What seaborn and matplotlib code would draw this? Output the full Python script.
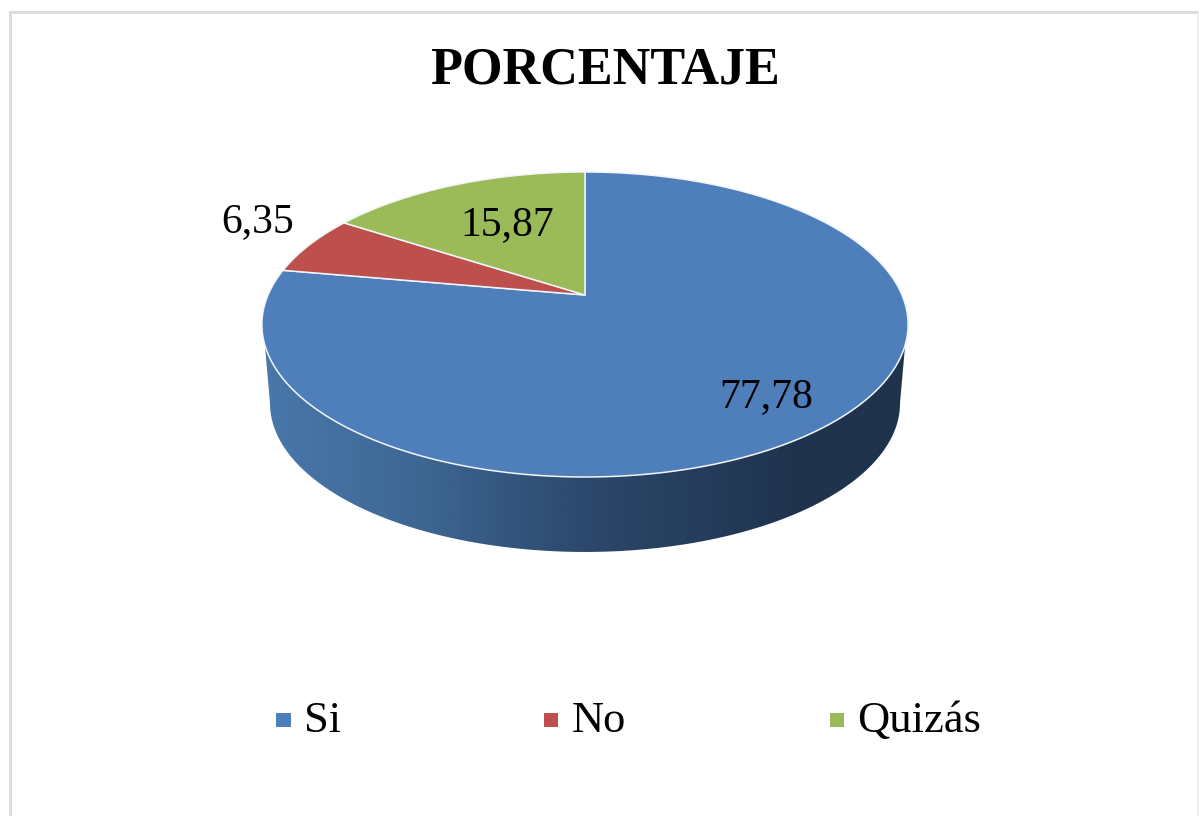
import numpy as np
import pandas as pd
import matplotlib
matplotlib.use('Agg')
import matplotlib.pyplot as plt
from matplotlib.colors import LinearSegmentedColormap
from matplotlib.patches import Polygon
import seaborn as sns

# values
categories = ['Si', 'No', 'Quizás']
values = [77.78, 6.35, 15.87]
value_labels = ['77,78', '6,35', '15,87']
title = 'PORCENTAJE'
colors = ['#4e7fbb', '#bd4f4c', '#9bbb59']

# pie drawn in pixel space, with a perspective tilt like the excel 3d pie
cx, cy = 585, 295
a, b, k = 317, 146.8, -0.1934
depth = 79.5
base_scale = 0.975

sns.set_theme(style='white')
plt.rcParams['font.family'] = ['Liberation Serif', 'DejaVu Serif']

fig = plt.figure(figsize=(11.99, 8.16), dpi=100)
ax = fig.add_axes([0, 0, 1, 1])
ax.set_xlim(0, 1199)
ax.set_ylim(816, 0)
ax.axis('off')


def project(theta, scale=1.0, shift=0.0):
    # theta is clockwise from 12 o'clock
    x, y = np.sin(theta), np.cos(theta)
    d = 1 - k * y
    return cx + scale * a * x / d, cy + shift - scale * b * y / d


# chart frame, the right edge is much fainter in the original
ax.plot([10, 10, 1198], [816, 12, 12], color='#dcdcdc', lw=2.2, solid_joinstyle='miter')
ax.plot([1198, 1198], [12, 816], color='#ececec', lw=1.2)

# side wall with horizontal shading, clipped to the visible band
top_t = np.linspace(np.pi / 2 + np.arcsin(0.32), 3 * np.pi / 2 - np.arcsin(0.32), 200)
low_t = np.linspace(3 * np.pi / 2 - np.arcsin(0.19), np.pi / 2 + np.arcsin(0.19), 200)
tx, ty = project(top_t)
lx, ly = project(low_t, base_scale, depth)
wall = Polygon(np.column_stack([np.r_[tx, lx], np.r_[ty, ly]]), closed=True,
               fc='none', ec='none', transform=ax.transData)
ax.add_patch(wall)
shade = LinearSegmentedColormap.from_list(
    'wall', [(0, '#4a78ab'), (0.25, '#3d6692'), (0.5, '#2c486c'), (0.83, '#1f334d'), (1, '#1f334d')])
img = ax.imshow(np.linspace(0, 1, 512)[None, :], cmap=shade, aspect='auto',
                extent=(262, 908, 560, 330), zorder=1)
img.set_clip_path(wall)
ax.set_xlim(0, 1199)
ax.set_ylim(816, 0)

# top face, wedges run clockwise from 12 o'clock
angles = np.cumsum([0] + values) / sum(values) * 2 * np.pi
for i, color in enumerate(colors):
    t = np.linspace(angles[i], angles[i + 1], 300)
    px, py = project(t)
    ax.add_patch(Polygon(np.column_stack([np.r_[cx, px], np.r_[cy, py]]), closed=True,
                         fc=color, ec='#f2f5f9', lw=1.1, joinstyle='round', zorder=2))

# value labels
label_pos = [(766, 397), (258, 222), (507, 225)]
for text, (x, y) in zip(value_labels, label_pos):
    ax.text(x, y, text, fontsize=30, color='black', ha='center', va='center', zorder=3)

ax.text(605, 71, title, fontsize=37.6, fontweight='bold', color='black', ha='center', va='center')

# legend
legend = pd.DataFrame({'cat': categories, 'x': [283.5, 551, 837], 'y': [720, 720, 720]})
sns.scatterplot(data=legend, x='x', y='y', hue='cat', palette=colors, marker='s', s=115,
                linewidth=0, legend=False, ax=ax, zorder=3)
for name, x in zip(categories, legend['x']):
    ax.text(x + 20.5, 721, name, fontsize=32, color='black', ha='left', va='center')
ax.axis('off')

plt.savefig('out.png', dpi=100)
plt.close()
